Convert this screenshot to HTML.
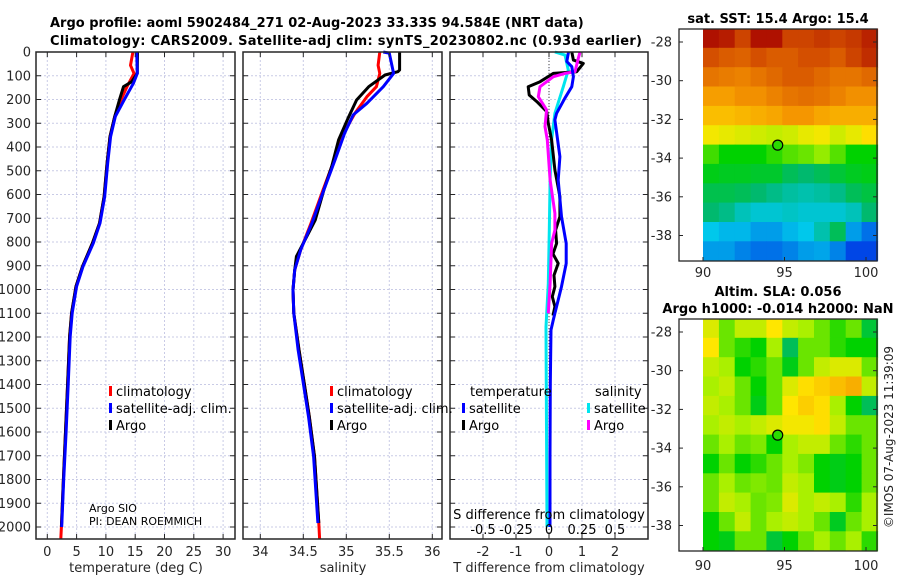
<!DOCTYPE html>
<html><head><meta charset="utf-8">
<style>
html,body{margin:0;padding:0;background:#fff;width:900px;height:580px;overflow:hidden}
svg{display:block;font-family:"DejaVu Sans","Liberation Sans",sans-serif}
</style></head>
<body>
<svg id="fig" width="900" height="580" viewBox="0 0 900 580" xmlns="http://www.w3.org/2000/svg">
<g font-weight="bold" font-size="13" fill="#000">
<text x="50" y="27">Argo profile: aoml 5902484_271 02-Aug-2023 33.33S 94.584E (NRT data)</text>
<text x="50" y="45" textLength="592">Climatology: CARS2009. Satellite-adj clim: synTS_20230802.nc (0.93d earlier)</text>
</g>
<text x="778" y="23" text-anchor="middle" font-weight="bold" font-size="13">sat. SST: 15.4 Argo: 15.4</text>
<text x="778" y="296" text-anchor="middle" font-weight="bold" font-size="13">Altim. SLA: 0.056</text>
<text x="778" y="313" text-anchor="middle" font-weight="bold" font-size="13">Argo h1000: -0.014 h2000: NaN</text>
<text transform="translate(893,437) rotate(-90)" text-anchor="middle" font-size="12" fill="#222">©IMOS 07-Aug-2023 11:39:09</text>
</svg>
<script>
// ---------- data ----------
const depthTicks=[0,100,200,300,400,500,600,700,800,900,1000,1100,1200,1300,1400,1500,1600,1700,1800,1900,2000];
const tTicks=[0,5,10,15,20,25,30];
const sTicks=[34,34.5,35,35.5,36];
const sTickLabels=["34","34.5","35","35.5","36"];
const dTTicks=[-2,-1,0,1,2];
const dSTicks=[-0.5,-0.25,0,0.25,0.5];
const dSTickLabels=["-0.5","-0.25","0","0.25","0.5"];

const tClimDepth=[0,56,90,146,216,272,356,468,609,721,805,903,987,1099,1198,1380,1600,1800,2000,2050];
const tClimVal=[14.6,14.2,14.8,13.6,12.3,11.5,10.7,10.2,9.7,8.9,7.7,6.0,4.9,4.15,3.8,3.5,3.1,2.75,2.4,2.3];
const tSatDepth=[0,90,132,202,272,356,468,609,721,805,903,987,1099,1198,1380,1600,1800,2000];
const tSatVal=[15.25,15.35,14.7,13.1,11.6,10.8,10.3,9.8,9.0,7.85,6.1,5.0,4.25,3.9,3.6,3.2,2.8,2.45];
const tArgoDepth=[0,90,125,146,202,272,356,468,609,721,805,903,987,1099,1198,1380,1600,1800,2000];
const tArgoVal=[15.4,15.35,14.4,13.0,12.3,11.5,10.7,10.2,9.7,8.9,7.7,6.0,4.9,4.15,3.8,3.5,3.1,2.75,2.4];

const sClimDepth=[0,56,90,146,188,258,342,454,580,721,833,918,1002,1100,1254,1394,1535,1703,1983,2050];
const sClimVal=[35.39,35.37,35.39,35.35,35.24,35.10,34.97,34.86,34.73,34.59,34.47,34.40,34.38,34.39,34.45,34.51,34.57,34.63,34.68,34.69];
const sSatDepth=[0,5,90,146,216,265,342,454,580,721,833,918,1002,1100,1254,1394,1535,1703,1983];
const sSatVal=[35.43,35.5,35.55,35.43,35.24,35.08,34.98,34.87,34.74,34.60,34.47,34.40,34.38,34.39,34.44,34.50,34.56,34.62,34.67];
const sArgoDepth=[0,76,83,97,146,202,279,370,482,580,707,791,861,918,1002,1100,1254,1394,1535,1703,1983];
const sArgoVal=[35.62,35.62,35.6,35.45,35.26,35.12,35.02,34.91,34.83,34.74,34.64,34.52,34.42,34.40,34.38,34.39,34.45,34.51,34.57,34.63,34.68];

const dTSatDepth=[0,40,62,104,146,195,258,286,441,539,693,806,890,988,1100,1128,1170,1400,1700,2000];
const dTSatVal=[0.59,0.54,0.69,0.74,0.69,0.48,0.23,0.18,0.33,0.28,0.38,0.52,0.52,0.38,0.18,0.13,0.06,0.04,0.03,0.03];
const dTArgoDepth=[0,34,48,83,90,125,146,181,209,251,300,370,497,609,693,750,806,850,890,940,988,1030,1072,1110];
const dTArgoVal=[0.69,0.74,1.04,0.84,0.13,-0.27,-0.63,-0.6,-0.37,-0.07,-0.02,0.08,0.18,0.33,0.33,0.2,0.23,0.12,0.28,0.15,0.18,0.1,0.18,0.12];
const dSSatDepth=[0,13,76,146,258,370,539,750,975,1157,1500,2000];
const dSSatVal=[0.045,0.121,0.146,0.108,0.045,0.02,0.008,0.002,-0.005,-0.023,-0.02,-0.015];
const dSArgoDepth=[0,27,83,90,104,146,188,244,314,370,539,679,750,806,975,1100];
const dSArgoVal=[0.235,0.222,0.197,0.121,0.033,-0.068,-0.081,-0.018,-0.03,-0.013,0.008,0.045,0.045,0.02,0.008,-0.005];

const mapLonTicks=[90,95,100];
const mapLatTicks=[-28,-30,-32,-34,-36,-38];
const sstGrid=[
[0.97,0.95,0.88,0.97,0.97,0.88,0.88,0.9,0.88,0.9,0.94],
[0.86,0.84,0.83,0.86,0.84,0.84,0.86,0.86,0.84,0.88,0.92],
[0.8,0.79,0.78,0.8,0.82,0.84,0.84,0.82,0.8,0.8,0.82],
[0.74,0.74,0.76,0.76,0.78,0.8,0.81,0.8,0.78,0.76,0.76],
[0.7,0.7,0.71,0.72,0.73,0.75,0.75,0.73,0.72,0.72,0.72],
[0.64,0.63,0.62,0.61,0.6,0.61,0.63,0.64,0.61,0.63,0.66],
[0.53,0.5,0.5,0.5,0.52,0.54,0.55,0.57,0.54,0.5,0.5],
[0.48,0.47,0.47,0.46,0.46,0.42,0.4,0.42,0.45,0.47,0.48],
[0.43,0.43,0.42,0.4,0.38,0.36,0.35,0.36,0.38,0.42,0.44],
[0.4,0.38,0.34,0.32,0.32,0.33,0.32,0.32,0.32,0.34,0.4],
[0.3,0.28,0.28,0.25,0.25,0.28,0.3,0.35,0.42,0.25,0.2],
[0.25,0.25,0.22,0.2,0.2,0.22,0.25,0.26,0.22,0.15,0.15]];
const slaGrid=[
[0.62,0.55,0.6,0.6,0.65,0.6,0.58,0.55,0.52,0.55,0.45],
[0.65,0.55,0.52,0.5,0.58,0.42,0.55,0.55,0.52,0.5,0.5],
[0.6,0.58,0.5,0.52,0.55,0.48,0.55,0.6,0.62,0.62,0.55],
[0.58,0.6,0.55,0.5,0.55,0.62,0.66,0.68,0.7,0.72,0.6],
[0.6,0.58,0.55,0.48,0.55,0.65,0.68,0.66,0.58,0.5,0.42],
[0.58,0.6,0.58,0.6,0.62,0.64,0.64,0.66,0.6,0.55,0.55],
[0.55,0.58,0.55,0.56,0.5,0.58,0.6,0.6,0.55,0.52,0.55],
[0.5,0.55,0.5,0.52,0.55,0.58,0.56,0.5,0.48,0.5,0.55],
[0.55,0.58,0.55,0.56,0.55,0.6,0.58,0.5,0.48,0.5,0.55],
[0.55,0.6,0.58,0.55,0.56,0.62,0.58,0.6,0.58,0.52,0.58],
[0.5,0.55,0.6,0.55,0.58,0.6,0.58,0.55,0.47,0.55,0.58],
[0.5,0.48,0.55,0.55,0.45,0.5,0.55,0.58,0.55,0.58,0.52]];
const argoLon=94.584, argoLat=-33.33;

// ---------- helpers ----------
const NS="http://www.w3.org/2000/svg";
const svg=document.getElementById('fig');
function mk(tag,attrs,parent){const e=document.createElementNS(NS,tag);for(const k in attrs)e.setAttribute(k,attrs[k]);(parent||svg).appendChild(e);return e;}
const Y0=52,Y1=539;
const yD=d=>52+d*0.2375;
const xT=t=>47.3+t*5.86;
const xS=s=>260.3+(s-34)*86;
const xDT=t=>549+t*33;
const xDS=s=>549+s*132;
const panels=[{x0:36,x1:235},{x0:243,x1:442},{x0:450,x1:648}];
const C='#262626';

function panelFrame(p,xticks,xfun,name){
  const g=mk('g',{});
  
  
  depthTicks.forEach(d=>{const l=mk('line',{x1:p.x0,x2:p.x1,y1:yD(d),y2:yD(d),stroke:'#c9cbe6','stroke-width':1,'stroke-dasharray':'2,2'},g);
    });
  xticks.forEach(v=>{const l=mk('line',{x1:xfun(v),x2:xfun(v),y1:Y0,y2:Y1,stroke:'#c9cbe6','stroke-width':1,'stroke-dasharray':'2,2'},g);
    });
}
function frameBorder(p,xticks,xfun,name){
  const g=mk('g',{});
  
  
  depthTicks.forEach(d=>{mk('line',{x1:p.x0,x2:p.x0+5,y1:yD(d),y2:yD(d),stroke:C},g);mk('line',{x1:p.x1-5,x2:p.x1,y1:yD(d),y2:yD(d),stroke:C},g);});
  xticks.forEach(v=>{mk('line',{x1:xfun(v),x2:xfun(v),y1:Y1,y2:Y1-5,stroke:C},g);mk('line',{x1:xfun(v),x2:xfun(v),y1:Y0,y2:Y0+5,stroke:C},g);});
  const r=mk('rect',{x:p.x0,y:Y0,width:p.x1-p.x0,height:Y1-Y0,fill:'none',stroke:C,'stroke-width':1.5},g);
  
}
function line(xs,ds,xfun,color,name,w){
  const pts=xs.map((v,i)=>xfun(v).toFixed(1)+','+yD(ds[i]).toFixed(1)).join(' ');
  const pl=mk('polyline',{points:pts,fill:'none',stroke:color,'stroke-width':w||3,'stroke-linejoin':'round'});
  
  
}
function txt(x,y,s,attrs,name){const t=mk('text',Object.assign({x:x,y:y,'font-size':13,fill:C},attrs||{}));t.textContent=s;
  return t;}

panelFrame(panels[0],tTicks,xT,'temperature-grid');
panelFrame(panels[1],sTicks,xS,'salinity-grid');
panelFrame(panels[2],dTTicks,xDT,'difference-grid');
{const z=mk('line',{x1:xDT(0),x2:xDT(0),y1:Y0,y2:Y1,stroke:'#444','stroke-width':1,'stroke-dasharray':'1,2'});
 }

depthTicks.forEach(d=>{txt(31,yD(d)+4.5,String(d),{'text-anchor':'end'},'depth-tick-label');});
tTicks.forEach(v=>txt(xT(v),556,String(v),{'text-anchor':'middle'},'temperature-tick-label'));
sTicks.forEach((v,i)=>txt(xS(v),556,sTickLabels[i],{'text-anchor':'middle'},'salinity-tick-label'));
dTTicks.forEach(v=>txt(xDT(v),556,String(v),{'text-anchor':'middle'},'t-diff-tick-label'));
txt(136,572,'temperature (deg C)',{'text-anchor':'middle'},'x-axis-title-temperature');
txt(343,572,'salinity',{'text-anchor':'middle'},'x-axis-title-salinity');
txt(549,572,'T difference from climatology',{'text-anchor':'middle'},'x-axis-title-t-diff');

line(tClimVal,tClimDepth,xT,'#ff0000','temperature-climatology-line');
line(tArgoVal,tArgoDepth,xT,'#000000','temperature-argo-line');
line(tSatVal,tSatDepth,xT,'#0000ff','temperature-satellite-line');
line(sClimVal,sClimDepth,xS,'#ff0000','salinity-climatology-line');
line(sArgoVal,sArgoDepth,xS,'#000000','salinity-argo-line');
line(sSatVal,sSatDepth,xS,'#0000ff','salinity-satellite-line');
line(dSSatVal,dSSatDepth,xDS,'#00e5ee','s-diff-satellite-line');
line(dTArgoVal,dTArgoDepth,xDT,'#000000','t-diff-argo-line');
line(dSArgoVal,dSArgoDepth,xDS,'#ff00ff','s-diff-argo-line');
line(dTSatVal,dTSatDepth,xDT,'#0000ff','t-diff-satellite-line');

frameBorder(panels[0],tTicks,xT,'temperature-axes');
frameBorder(panels[1],sTicks,xS,'salinity-axes');
frameBorder(panels[2],dTTicks,xDT,'difference-axes');

function legend(x,y0,entries,name){
  const g=mk('g',{});
  entries.forEach((e,i)=>{const y=y0+i*17;
    mk('rect',{x:x,y:y-10,width:3,height:10,fill:e[1]},g);
    const t=mk('text',{x:x+7,y:y,'font-size':13,fill:'#000'},g);t.textContent=e[0];});
}
legend(109,396,[['climatology','#ff0000'],['satellite-adj. clim.','#0000ff'],['Argo','#000']],'temperature-legend');
legend(330,396,[['climatology','#ff0000'],['satellite-adj. clim.','#0000ff'],['Argo','#000']],'salinity-legend');
txt(470,396,'temperature',{fill:'#000'},'legend-heading-temperature');
txt(595,396,'salinity',{fill:'#000'},'legend-heading-salinity');
legend(462,413,[['satellite','#0000ff'],['Argo','#000']],'diff-temperature-legend');
legend(587,413,[['satellite','#00e5ee'],['Argo','#ff00ff']],'diff-salinity-legend');

txt(89,512,'Argo SIO',{'font-size':11,fill:'#000'},'argo-institution');
txt(89,525,'PI: DEAN ROEMMICH',{'font-size':11,fill:'#000'},'argo-pi');
txt(549,519,'S difference from climatology',{'text-anchor':'middle',fill:'#000'},'s-diff-axis-title');
dSTicks.forEach((v,i)=>txt(xDS(v),534,dSTickLabels[i],{'text-anchor':'middle',fill:'#000'},'s-diff-tick-label'));

// ---------- maps ----------
const cmapStops=[[0,[0,0,150]],[0.15,[0,70,230]],[0.3,[0,200,235]],[0.4,[0,185,110]],[0.5,[0,210,0]],[0.58,[170,240,0]],[0.65,[255,230,0]],[0.75,[245,150,0]],[0.85,[215,85,0]],[1,[165,0,0]]];
function cmap(v){
  v=Math.max(0,Math.min(1,v));
  for(let i=1;i<cmapStops.length;i++){const a=cmapStops[i-1],b=cmapStops[i];
    if(v<=b[0]){const f=(v-a[0])/(b[0]-a[0]);const c=a[1].map((x,k)=>Math.round(x+(b[1][k]-x)*f));return 'rgb('+c.join(',')+')';}}
  return 'rgb(165,0,0)';
}
function map(grid,top,name,lonLabelY){
  const fx0=679,fx1=877,ft=top,fb=top+232;
  const xL=lon=>703+(lon-90)*16.3;
  const yL=lat=>(top+13)+(-28-lat)*19.35;
  const g=mk('g',{});
  const rows=grid.length,cols=grid[0].length;
  const lat0=-27.3,lat1=-39.3,lon0=90,lon1=100.7;
  for(let r=0;r<rows;r++)for(let c=0;c<cols;c++){
    const la=lat0+(lat1-lat0)*r/rows, lb=lat0+(lat1-lat0)*(r+1)/rows;
    const oa=lon0+(lon1-lon0)*c/cols, ob=lon0+(lon1-lon0)*(c+1)/cols;
    const cell=mk('rect',{x:xL(oa).toFixed(1),y:yL(la).toFixed(1),width:(xL(ob)-xL(oa)+0.6).toFixed(1),height:(yL(lb)-yL(la)+0.6).toFixed(1),fill:cmap(grid[r][c])},g);
    
    
  }
  mk('rect',{x:fx0,y:ft,width:fx1-fx0,height:fb-ft,fill:'none',stroke:C,'stroke-width':1.3},g);
  mapLatTicks.forEach(la=>{mk('line',{x1:fx0,x2:fx0+4,y1:yL(la),y2:yL(la),stroke:C},g);mk('line',{x1:fx1-4,x2:fx1,y1:yL(la),y2:yL(la),stroke:C},g);
    const t=mk('text',{x:672,y:yL(la)+4.5,'text-anchor':'end','font-size':13,fill:C},g);t.textContent=String(la);});
  mapLonTicks.forEach(lo=>{mk('line',{x1:xL(lo),x2:xL(lo),y1:fb,y2:fb-4,stroke:C},g);
    const t=mk('text',{x:xL(lo),y:lonLabelY,'text-anchor':'middle','font-size':13,fill:C},g);t.textContent=String(lo);});
  const m=mk('circle',{cx:xL(argoLon),cy:yL(argoLat),r:5,fill:cmap(0.52),stroke:'#000','stroke-width':1.2},g);
  
  
}
map(sstGrid,29,'sst-map',277);
map(slaGrid,319,'sla-map',570);
</script>
</body></html>
